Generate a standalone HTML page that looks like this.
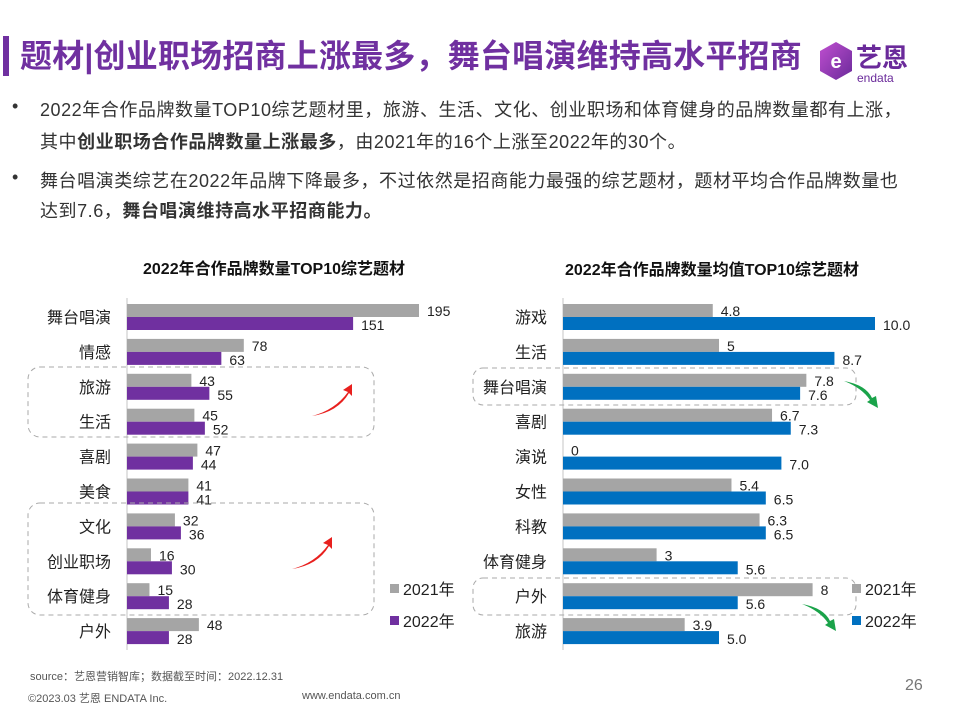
<!DOCTYPE html>
<html><head><meta charset="utf-8">
<style>
body{margin:0;width:960px;height:720px;background:#fff;font-family:"Liberation Sans","Noto Sans CJK SC",sans-serif;position:relative;overflow:hidden;color:#222}
.abs{position:absolute}
.bl{position:absolute;white-space:nowrap;font-size:18px;letter-spacing:0.55px;color:#333}
</style></head><body>
<div class="abs" style="left:3px;top:36px;width:6px;height:40px;background:#7030a0"></div>
<div class="abs" style="left:20px;top:31px;font-size:32px;font-weight:bold;color:#7030a0;letter-spacing:0.2px;white-space:nowrap">题材|创业职场招商上涨最多，舞台唱演维持高水平招商</div>
<div class="abs" style="left:814px;top:38px;width:110px;height:46px">
<svg width="110" height="46"><defs><linearGradient id="lg" x1="0" y1="0" x2="1" y2="1"><stop offset="0" stop-color="#c04fd0"/><stop offset="1" stop-color="#6a2a9a"/></linearGradient></defs>
<path d="M22 4 L38 13 L38 33 L22 42 L6 33 L6 13 Z" fill="url(#lg)"/>
<text x="22" y="30" font-size="20" font-weight="bold" fill="#fff" text-anchor="middle" font-family="Liberation Sans">e</text>
<text x="42" y="29" font-size="26" font-weight="bold" fill="#6a2a9a" font-family="Noto Sans CJK SC">艺恩</text>
<text x="43" y="44" font-size="12" fill="#6a2a9a" font-family="Liberation Sans">endata</text></svg></div>
<div>
<div class="bl" style="left:12px;top:96px">•</div>
<div class="bl" style="left:40px;top:96px">2022年合作品牌数量TOP10综艺题材里，旅游、生活、文化、创业职场和体育健身的品牌数量都有上涨，</div>
<div class="bl" style="left:40px;top:128px">其中<b>创业职场合作品牌数量上涨最多</b>，由2021年的16个上涨至2022年的30个。</div>
<div class="bl" style="left:12px;top:167px">•</div>
<div class="bl" style="left:40px;top:167px">舞台唱演类综艺在2022年品牌下降最多，不过依然是招商能力最强的综艺题材，题材平均合作品牌数量也</div>
<div class="bl" style="left:40px;top:197px">达到7.6，<b>舞台唱演维持高水平招商能力。</b></div>
</div>
<svg class="abs" style="left:0;top:0" width="960" height="720" id="charts" font-family="Liberation Sans, Noto Sans CJK SC, sans-serif">
<text x="274" y="274" font-size="16" font-weight="bold" text-anchor="middle" fill="#111">2022年合作品牌数量TOP10综艺题材</text>
<text x="712" y="275" font-size="16" font-weight="bold" text-anchor="middle" fill="#111">2022年合作品牌数量均值TOP10综艺题材</text>
<g id="left"></g><g id="right"></g>
<rect x="28" y="367" width="346" height="70" rx="12" fill="none" stroke="#aaa" stroke-dasharray="5,4"/>
<rect x="28" y="503" width="346" height="112" rx="12" fill="none" stroke="#aaa" stroke-dasharray="5,4"/>
<rect x="473" y="368" width="383" height="37" rx="10" fill="none" stroke="#aaa" stroke-dasharray="5,4"/>
<rect x="473" y="578" width="383" height="37" rx="10" fill="none" stroke="#aaa" stroke-dasharray="5,4"/>
<path d="M312 416 Q335 410 348 392 L343 390 L352 384 L352 396 L349 393 Q338 412 312 416 Z" fill="#e8201e"/>
<path d="M292 569 Q315 563 328 545 L323 543 L332 537 L332 549 L329 546 Q318 565 292 569 Z" fill="#e8201e"/>
<path d="M844 381 Q866 385 872 398 L876 396 L878 408 L867 402 L870 400 Q862 388 844 381 Z" fill="#1aa34a"/>
<path d="M802 604 Q824 608 830 621 L834 619 L836 631 L825 625 L828 623 Q820 611 802 604 Z" fill="#1aa34a"/>
</svg>
<div class="abs" style="left:30px;top:668px;font-size:11px;color:#555">source：艺恩营销智库；数据截至时间：2022.12.31</div>
<div class="abs" style="left:28px;top:690px;font-size:11px;color:#555">©2023.03 艺恩 ENDATA Inc.</div>
<div class="abs" style="left:302px;top:690px;font-size:11px;color:#555">www.endata.com.cn</div>
<div class="abs" style="left:905px;top:677px;font-size:16px;color:#777">26</div>
<script>
const leftCats=["舞台唱演","情感","旅游","生活","喜剧","美食","文化","创业职场","体育健身","户外"];
const left2021=[195,78,43,45,47,41,32,16,15,48];
const left2022=[151,63,55,52,44,41,36,30,28,28];
const rightCats=["游戏","生活","舞台唱演","喜剧","演说","女性","科教","体育健身","户外","旅游"];
const right2021=[4.8,5,7.8,6.7,0,5.4,6.3,3,8,3.9];
const right2022=[10.0,8.7,7.6,7.3,7.0,6.5,6.5,5.6,5.6,5.0];
const right2021Labels=["4.8","5","7.8","6.7","0","5.4","6.3","3","8","3.9"];
const right2022Labels=["10.0","8.7","7.6","7.3","7.0","6.5","6.5","5.6","5.6","5.0"];
const seriesNames=["2021年","2022年"];
const NS="http://www.w3.org/2000/svg";
function mk(p,tag,attrs){const e=document.createElementNS(NS,tag);for(const k in attrs)e.setAttribute(k,attrs[k]);p.appendChild(e);return e;}
function drawChart(g,cats,a,b,la,lb,x0,maxV,maxW,c2,legX,prefix){
  const xs=v=>v/maxV*maxW;
  const yRow=i=>304+i*34.9;
  const ax=mk(g,'line',{x1:x0,y1:298,x2:x0,y2:650,stroke:'#d9d9d9','stroke-width':1.5});
  
  
  cats.forEach((c,i)=>{
    const y=yRow(i);
    const t=mk(g,'text',{x:x0-16,y:y+19,'font-size':16,'text-anchor':'end',fill:'#222'});t.textContent=c;
    
    
    const r1=mk(g,'rect',{x:x0,y:y,width:xs(a[i]),height:13,fill:'#a5a5a5'});
    
    
    const r2=mk(g,'rect',{x:x0,y:y+13,width:xs(b[i]),height:13,fill:c2});
    
    
    const v1=mk(g,'text',{x:x0+xs(a[i])+8,y:y+12,'font-size':14,fill:'#222'});v1.textContent=la[i];
    
    
    const v2=mk(g,'text',{x:x0+xs(b[i])+8,y:y+26,'font-size':14,fill:'#222'});v2.textContent=lb[i];
    
    
  });
  [['#a5a5a5',590],[c2,622]].forEach((d,k)=>{
    const s=mk(g,'rect',{x:legX,y:d[1]-6,width:9,height:9,fill:d[0]});
    
    
    const t=mk(g,'text',{x:legX+13,y:d[1]+5,'font-size':16,fill:'#222'});t.textContent=seriesNames[k];
    
    
  });
}
drawChart(document.getElementById('left'),leftCats,left2021,left2022,left2021.map(String),left2022.map(String),127,195,292,'#7030a0',390,'left');
drawChart(document.getElementById('right'),rightCats,right2021,right2022,right2021Labels,right2022Labels,563,10,312,'#0070c0',852,'right');
</script>
</body></html>
